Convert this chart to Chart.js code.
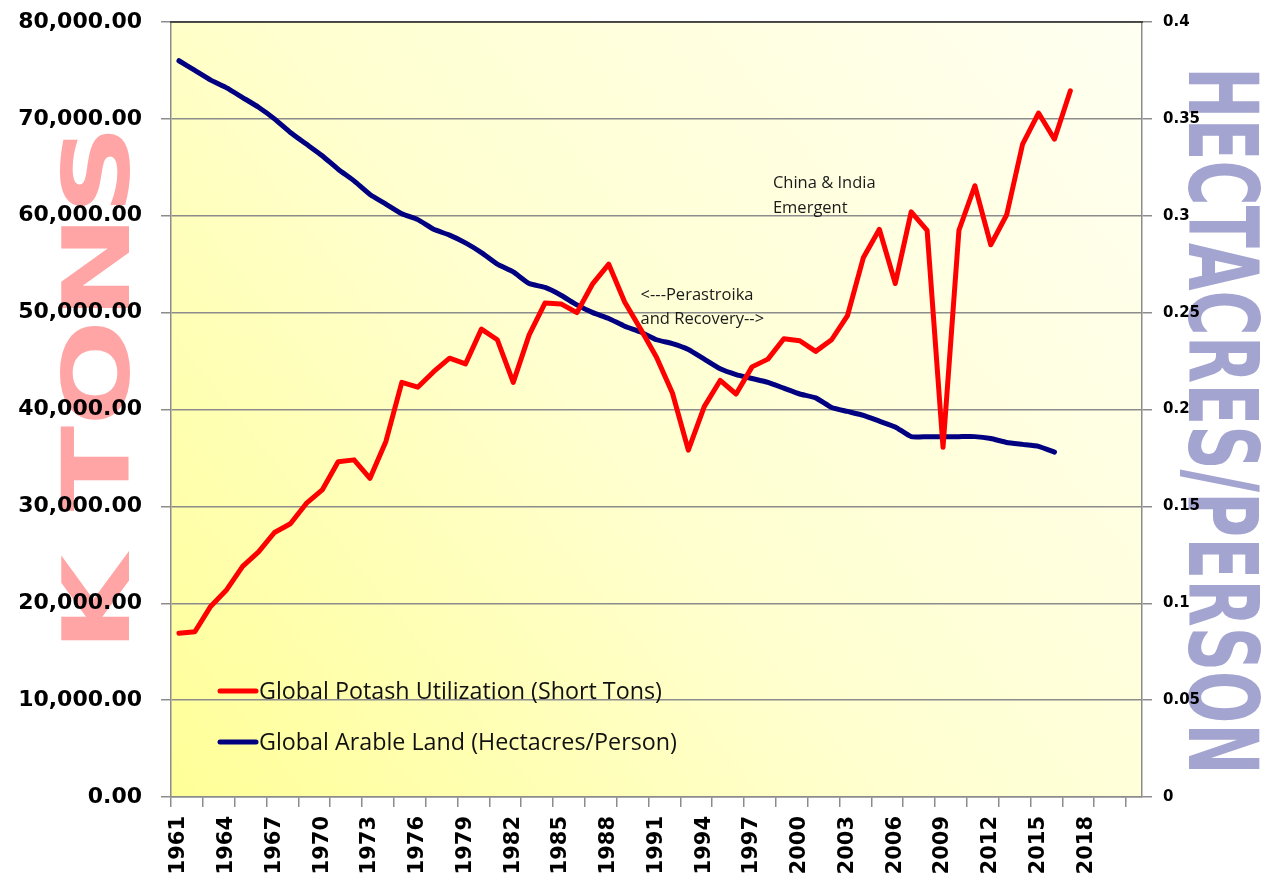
<!DOCTYPE html>
<html>
<head>
<meta charset="utf-8">
<script src="https://cdn.jsdelivr.net/npm/chart.js@4.4.0/dist/chart.umd.min.js"></script>
<style>
html,body{margin:0;padding:0;background:#ffffff;}
#wrap{width:1266px;height:887px;position:relative;}
canvas{display:block;}
</style>
</head>
<body>
<div id="wrap"><canvas id="c" width="1266" height="887"></canvas></div>
<script>
// ---- data ----
const years = ['1961','1962','1963','1964','1965','1966','1967','1968','1969','1970',
  '1971','1972','1973','1974','1975','1976','1977','1978','1979','1980',
  '1981','1982','1983','1984','1985','1986','1987','1988','1989','1990',
  '1991','1992','1993','1994','1995','1996','1997','1998','1999','2000',
  '2001','2002','2003','2004','2005','2006','2007','2008','2009','2010',
  '2011','2012','2013','2014','2015','2016','2017','2018','2019','2020','2021'];

const shownYearLabels = ['1961','1964','1967','1970','1973','1976','1979','1982','1985','1988',
  '1991','1994','1997','2000','2003','2006','2009','2012','2015','2018'];

// Global Potash Utilization (Short Tons), thousands
const potash = [16900,17060,19700,21400,23800,25300,27300,28200,30300,31700,
  34600,34800,32900,36700,42800,42300,43900,45300,44700,48300,
  47200,42800,47700,51000,50900,50000,53000,55000,51100,48300,
  45400,41700,35800,40300,43000,41600,44400,45200,47300,47100,
  46000,47200,49700,55700,58600,53000,60400,58500,36100,58500,
  63100,57000,60100,67400,70600,67900,72900,null,null,null,null];

// Global Arable Land (Hectacres/Person)
const arable = [0.380,0.375,0.370,0.366,0.361,0.356,0.350,0.343,0.337,0.331,
  0.324,0.318,0.311,0.306,0.301,0.298,0.293,0.290,0.286,0.281,
  0.275,0.271,0.265,0.263,0.259,0.254,0.250,0.247,0.243,0.240,
  0.236,0.234,0.231,0.226,0.221,0.218,0.216,0.214,0.211,0.208,
  0.206,0.201,0.199,0.197,0.194,0.191,0.186,0.186,0.186,0.186,
  0.186,0.185,0.183,0.182,0.181,0.178,null,null,null,null,null];

const seriesNames = ['Global Potash Utilization (Short Tons)', 'Global Arable Land (Hectacres/Person)'];
const leftTitle = 'K TONS';
const rightTitle = 'HECTACRES/PERSON';
const notes = [
  { lines: ['China & India', 'Emergent'], year: '1998', yValue: 62900, dx: 5, lineGap: 25 },
  { lines: ['<---Perastroika', 'and Recovery-->'], year: '1990', yValue: 51300, dx: 0, lineGap: 23.5 }
];

// ---- helpers ----
function stretchedText(ctx, text, cx, cy, length, thickness, rotation, color) {
  ctx.save();
  ctx.font = 'bold 100px "DejaVu Sans"';
  const m = ctx.measureText(text);
  const inkW = m.actualBoundingBoxLeft + m.actualBoundingBoxRight;
  const cap = m.actualBoundingBoxAscent;
  ctx.translate(cx, cy);
  ctx.rotate(rotation);
  ctx.scale(length / inkW, thickness / cap);
  ctx.fillStyle = color;
  ctx.textAlign = 'left';
  ctx.textBaseline = 'alphabetic';
  ctx.fillText(text, (m.actualBoundingBoxLeft - m.actualBoundingBoxRight) / 2, cap / 2);
  ctx.restore();
}

const decorPlugin = {
  id: 'decor',
  beforeDraw(chart) {
    const {ctx, chartArea: a} = chart;
    ctx.save();
    ctx.fillStyle = '#ffffff';
    ctx.fillRect(0, 0, chart.width, chart.height);
    const g = ctx.createLinearGradient(a.left, a.bottom, a.right, a.top);
    g.addColorStop(0, '#ffff98');
    g.addColorStop(0.45, '#ffffcf');
    g.addColorStop(1, '#fffff2');
    ctx.fillStyle = g;
    ctx.fillRect(a.left, a.top, a.right - a.left, a.bottom - a.top);
    ctx.restore();
    // axis titles (drawn under the tick labels)
    stretchedText(ctx, leftTitle, 94, 387, 507, 69, -Math.PI / 2, '#ffa5a5');
    stretchedText(ctx, rightTitle, 1225, 421, 697, 72, Math.PI / 2, '#a4a4d0');
  },
  beforeDatasetsDraw(chart) {
    const {ctx, chartArea: a} = chart;
    ctx.save();
    ctx.strokeStyle = '#2a2a2a';
    ctx.lineWidth = 1.6;
    ctx.beginPath();
    ctx.moveTo(a.left - 1, a.top);
    ctx.lineTo(a.right + 1, a.top);
    ctx.stroke();
    ctx.restore();
  },
  afterDraw(chart) {
    const {ctx, chartArea: a} = chart;
    const xs = chart.scales.x, ys = chart.scales.y;
    ctx.save();
    // legend inside the plot area
    ctx.font = '23.3px "Open Sans"';
    ctx.textBaseline = 'middle';
    ctx.textAlign = 'left';
    chart.data.datasets.forEach((ds, i) => {
      const y = 691 + i * 51;
      const x0 = a.left + 49;
      ctx.strokeStyle = ds.borderColor;
      ctx.lineWidth = 5;
      ctx.lineCap = 'round';
      ctx.beginPath();
      ctx.moveTo(x0, y);
      ctx.lineTo(x0 + 36, y);
      ctx.stroke();
      ctx.fillStyle = '#111111';
      ctx.fillText(ds.label, x0 + 39, y + 1);
    });
    // annotations
    ctx.font = '16.5px "Open Sans"';
    ctx.textBaseline = 'alphabetic';
    ctx.fillStyle = '#1a1a1a';
    notes.forEach(n => {
      const x = xs.getPixelForValue(years.indexOf(n.year)) + n.dx;
      const y = ys.getPixelForValue(n.yValue);
      n.lines.forEach((t, k) => ctx.fillText(t, x, y + k * n.lineGap));
    });
    ctx.restore();
  }
};

const tickFontBig = {family: '"DejaVu Sans"', weight: 'bold', size: 22};
const gridGray = '#8c8c8c';

new Chart(document.getElementById('c'), {
  type: 'line',
  data: {
    labels: years,
    datasets: [
      {
        label: seriesNames[0], data: potash, yAxisID: 'y',
        borderColor: '#ff0000', backgroundColor: '#ff0000',
        borderWidth: 5, pointRadius: 0, tension: 0,
        borderJoinStyle: 'round', borderCapStyle: 'round', order: 0
      },
      {
        label: seriesNames[1], data: arable, yAxisID: 'y1',
        borderColor: '#000080', backgroundColor: '#000080',
        borderWidth: 5, pointRadius: 0, tension: 0.15,
        borderJoinStyle: 'round', borderCapStyle: 'round', order: 1
      }
    ]
  },
  options: {
    responsive: false,
    animation: false,
    devicePixelRatio: 1,
    layout: {padding: {top: 22, left: 0, right: 0, bottom: 0}},
    plugins: {legend: {display: false}, tooltip: {enabled: false}},
    scales: {
      x: {
        type: 'category',
        offset: true,
        afterFit: s => { s.height = 90; },
        grid: {
          offset: true, drawOnChartArea: false, tickLength: 10, lineWidth: 1.5,
          color: c => (c.index % 2 === 0 ? gridGray : 'rgba(0,0,0,0)')
        },
        border: {color: gridGray, width: 1.5},
        ticks: {
          autoSkip: false, minRotation: 90, maxRotation: 90, padding: 9,
          color: '#000000', font: {family: '"DejaVu Sans"', weight: 'bold', size: 21},
          callback: (v, i) => (shownYearLabels.includes(years[i]) ? years[i] : '')
        }
      },
      y: {
        position: 'left', min: 0, max: 80000,
        afterFit: s => { s.width = 171; s.paddingTop = 0; s.paddingBottom = 0; },
        grid: {color: gridGray, lineWidth: 1.5, tickLength: 10},
        border: {color: gridGray, width: 1.5},
        ticks: {
          stepSize: 10000, padding: 19, color: '#000000', font: tickFontBig,
          callback: v => Number(v).toLocaleString('en-US', {minimumFractionDigits: 2, maximumFractionDigits: 2})
        }
      },
      y1: {
        position: 'right', min: 0, max: 0.4,
        afterFit: s => { s.width = 124; s.paddingTop = 0; s.paddingBottom = 0; },
        grid: {drawOnChartArea: false, color: gridGray, lineWidth: 1.5, tickLength: 10},
        border: {color: gridGray, width: 1.5},
        ticks: {
          stepSize: 0.05, padding: 11, color: '#000000',
          font: {family: '"DejaVu Sans"', weight: 'bold', size: 15},
          callback: v => String(parseFloat(Number(v).toFixed(2)))
        }
      }
    }
  },
  plugins: [decorPlugin]
});
</script>
</body>
</html>
